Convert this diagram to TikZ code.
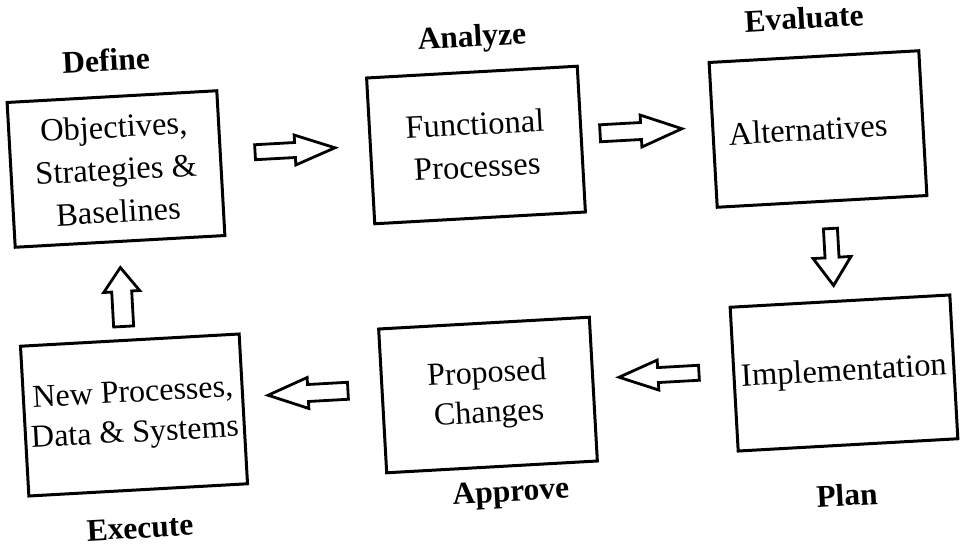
\documentclass[tikz,border=0pt]{standalone}
\usepackage{fontspec}
\setmainfont{Liberation Serif}
\newcommand\blockarrow[7]{%
  \begin{scope}[shift={(#1,#2)}, rotate=#3]
    \draw[arrowline] ({-#4/2},{#7/2}) -- ({#4/2-#5},{#7/2}) -- ({#4/2-#5},{#6/2})
      -- ({#4/2},0) -- ({#4/2-#5},{-#6/2}) -- ({#4/2-#5},{-#7/2})
      -- ({-#4/2},{-#7/2}) -- cycle;
  \end{scope}}
\begin{document}
\begin{tikzpicture}[x=1pt,y=1pt,
  box/.style={draw, line width=3pt, rotate=3.2, inner sep=0pt, align=center},
  boxfontA/.style={font=\fontsize{32.5}{42.5}\selectfont},
  boxfontB/.style={font=\fontsize{32}{40}\selectfont},
  lbl/.style={rotate=3.2, inner sep=0pt, font=\fontsize{31.5}{36}\selectfont\bfseries},
  arrowline/.style={draw, line width=2.8pt}
]
\useasboundingbox (0,0) rectangle (963,-551);

% boxes
\node[box, boxfontA, minimum width=210pt, minimum height=145pt] (b1) at (116,-169)
  {Objectives,\\Strategies \&\\Baselines};
\node[box, boxfontA, minimum width=211pt, minimum height=146pt] (b2) at (476,-145)
  {Functional\\Processes};
\node[box, boxfontA, minimum width=210pt, minimum height=145pt] (b3) at (818,-129)
  {Alternatives\hspace*{20pt}};
\node[box, boxfontA, minimum width=220pt, minimum height=144pt] (b4) at (844,-373)
  {Implementation};
\node[box, boxfontB, minimum width=211pt, minimum height=144pt] (b5) at (488,-395)
  {Proposed\\Changes};
\node[box, boxfontB, minimum width=219pt, minimum height=150pt] (b6) at (134,-415)
  {New Processes,\\Data \& Systems};

% labels
\node[lbl] (ldefine) at (106,-60) {Define};
\node[lbl] (lanalyze) at (472,-39) {Analyze};
\node[lbl] (levaluate) at (804,-18) {Evaluate};
\node[lbl] (lplan) at (847,-495) {Plan};
\node[lbl] (lapprove) at (511,-494) {Approve};
\node[lbl] (lexecute) at (140,-528) {Execute};

% block arrows
\blockarrow{295}{-150}{3.2}{80}{40}{30}{15}
\blockarrow{641}{-131}{3.2}{82}{41}{32}{17}
\blockarrow{832}{-257}{-86.8}{57}{28}{38}{14}
\blockarrow{659}{-375}{183.2}{80}{39}{30}{15}
\blockarrow{308}{-393}{183.2}{80}{40}{31}{17}
\blockarrow{122}{-297}{93.2}{59}{24}{36}{20}
\end{tikzpicture}
\end{document}
